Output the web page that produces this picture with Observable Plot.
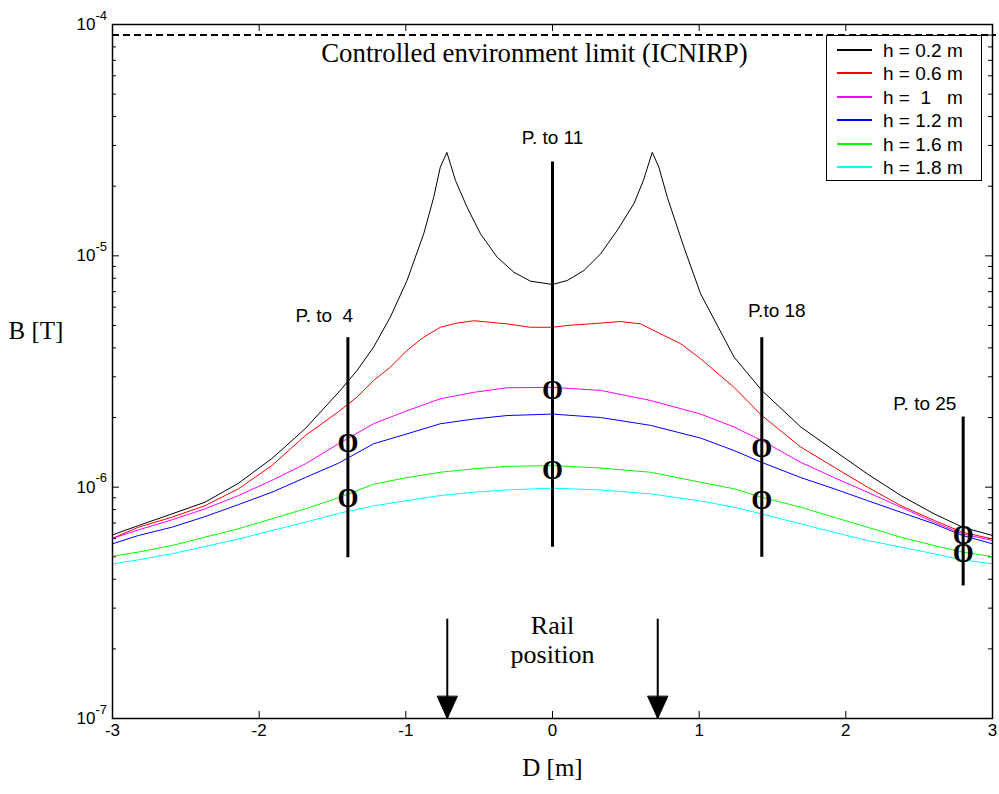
<!DOCTYPE html>
<html>
<head>
<meta charset="utf-8">
<script src="https://cdn.jsdelivr.net/npm/d3@7"></script>
<script src="https://cdn.jsdelivr.net/npm/@observablehq/plot@0.6"></script>
<style>
  body { margin: 0; background: white; }
  #wrap { position: relative; width: 999px; height: 794px; }
  svg text { white-space: pre; }
  #legend { position: absolute; left: 826px; top: 35px; width: 156px; height: 146px;
            border: 1px solid black; background: white; box-sizing: border-box; }
</style>
</head>
<body>
<div id="wrap"></div>
<script>
// ---- data ----
const seriesLabels = ["h = 0.2 m", "h = 0.6 m", "h =  1   m", "h = 1.2 m", "h = 1.6 m", "h = 1.8 m"];
const seriesColors = ["#000000", "#ff0000", "#ff00ff", "#0000ff", "#00ff00", "#00ffff"];

const xBlack = [-3, -2.824, -2.596, -2.369, -2.141, -1.913, -1.686, -1.447, -1.333, -1.22, -1.106, -0.992, -0.878, -0.81, -0.765, -0.72, -0.662, -0.582, -0.491, -0.377, -0.264, -0.15, 0, 0.1, 0.214, 0.328, 0.442, 0.555, 0.62, 0.68, 0.725, 0.783, 0.896, 1.01, 1.238, 1.427, 1.693, 1.92, 2.148, 2.375, 2.603, 2.797, 3.0];
const bH02 = [6.22e-7, 6.82e-7, 7.66e-7, 8.61e-7, 1.04e-6, 1.33e-6, 1.79e-6, 2.62e-6, 3.19e-6, 4.03e-6, 5.43e-6, 7.82e-6, 1.245e-5, 1.79e-5, 2.42e-5, 2.8e-5, 2.12e-5, 1.62e-5, 1.245e-5, 9.86e-6, 8.5e-6, 7.77e-6, 7.52e-6, 7.82e-6, 8.64e-6, 1.02e-5, 1.29e-5, 1.68e-5, 2.12e-5, 2.8e-5, 2.42e-5, 1.79e-5, 1.09e-5, 6.85e-6, 3.65e-6, 2.62e-6, 1.82e-6, 1.44e-6, 1.14e-6, 9.2e-7, 7.66e-7, 6.71e-7, 6.18e-7];

const xRed = [-3, -2.824, -2.596, -2.369, -2.141, -1.913, -1.686, -1.459, -1.333, -1.22, -1.106, -0.992, -0.878, -0.765, -0.651, -0.537, -0.423, -0.31, -0.15, 0, 0.1, 0.328, 0.464, 0.601, 0.737, 0.874, 1.01, 1.238, 1.427, 1.693, 1.92, 2.148, 2.375, 2.603, 2.797, 3.0];
const bH06 = [6.01e-7, 6.71e-7, 7.41e-7, 8.32e-7, 9.84e-7, 1.24e-6, 1.67e-6, 2.12e-6, 2.45e-6, 2.89e-6, 3.30e-6, 3.90e-6, 4.45e-6, 4.91e-6, 5.12e-6, 5.24e-6, 5.16e-6, 5.08e-6, 4.91e-6, 4.91e-6, 5.0e-6, 5.12e-6, 5.2e-6, 5.08e-6, 4.60e-6, 4.17e-6, 3.59e-6, 2.70e-6, 2.04e-6, 1.49e-6, 1.22e-6, 1.0e-6, 8.32e-7, 7.18e-7, 6.38e-7, 5.97e-7];

const xSmooth = [-3, -2.824, -2.596, -2.369, -2.141, -1.913, -1.686, -1.459, -1.22, -0.992, -0.765, -0.537, -0.31, 0, 0.328, 0.669, 1.01, 1.238, 1.427, 1.693, 1.92, 2.148, 2.375, 2.603, 2.797, 3.0];
const bH10 = [6.01e-7, 6.53e-7, 7.22e-7, 8.06e-7, 9.2e-7, 1.07e-6, 1.26e-6, 1.54e-6, 1.88e-6, 2.14e-6, 2.41e-6, 2.57e-6, 2.69e-6, 2.70e-6, 2.62e-6, 2.37e-6, 2.07e-6, 1.82e-6, 1.59e-6, 1.28e-6, 1.10e-6, 9.51e-7, 8.19e-7, 7.05e-7, 6.28e-7, 5.88e-7];
const bH12 = [5.69e-7, 6.18e-7, 6.71e-7, 7.46e-7, 8.41e-7, 9.51e-7, 1.10e-6, 1.27e-6, 1.54e-6, 1.70e-6, 1.88e-6, 1.97e-6, 2.04e-6, 2.07e-6, 2.0e-6, 1.85e-6, 1.63e-6, 1.44e-6, 1.28e-6, 1.10e-6, 9.84e-7, 8.75e-7, 7.79e-7, 6.94e-7, 6.18e-7, 5.69e-7];
const bH16 = [5.03e-7, 5.24e-7, 5.59e-7, 6.08e-7, 6.61e-7, 7.30e-7, 8.06e-7, 9.0e-7, 1.03e-6, 1.10e-6, 1.16e-6, 1.20e-6, 1.23e-6, 1.24e-6, 1.21e-6, 1.16e-6, 1.05e-6, 9.84e-7, 9.04e-7, 8.19e-7, 7.41e-7, 6.71e-7, 6.08e-7, 5.59e-7, 5.24e-7, 5.01e-7];
const bH18 = [4.66e-7, 4.85e-7, 5.15e-7, 5.54e-7, 5.97e-7, 6.49e-7, 7.05e-7, 7.7e-7, 8.3e-7, 8.75e-7, 9.2e-7, 9.51e-7, 9.73e-7, 9.9e-7, 9.73e-7, 9.35e-7, 8.72e-7, 8.19e-7, 7.66e-7, 6.94e-7, 6.38e-7, 5.88e-7, 5.51e-7, 5.15e-7, 4.85e-7, 4.66e-7];

const limitB = 9e-5;
const limitText = "Controlled environment limit (ICNIRP)";
const limitTextX = -0.123, limitTextB = 7.49e-5;

const railX = [-0.7175, 0.7175];
const railTopB = 2.7e-7, railTipB = 1e-7;
const railText = "Rail\nposition";
const railTextX = 0, railTextB = 2.2e-7;

const probeX = [-1.395, 0, 1.427, 2.8];
const probeTopB = [4.45e-6, 2.56e-5, 4.45e-6, 2.02e-6];
const probeBottomB = [4.98e-7, 5.53e-7, 5.0e-7, 3.76e-7];
const probeLabels = ["P. to  4", "P. to 11", "P.to 18", "P. to 25"];
const probeLabelX = [-1.556, 0, 1.529, 2.539];
const probeLabelB = [5.52e-6, 3.25e-5, 5.8e-6, 2.28e-6];

const markerX = [-1.395, -1.395, 0, 0, 1.427, 1.427, 2.8, 2.8];
const markerB = [1.54e-6, 8.93e-7, 2.62e-6, 1.18e-6, 1.47e-6, 8.75e-7, 6.18e-7, 5.16e-7];

const xTicks = [-3, -2, -1, 0, 1, 2, 3];
const xTickLabels = ["-3", "-2", "-1", "0", "1", "2", "3"];
const yMajor = [1e-7, 1e-6, 1e-5, 1e-4];
const yExpLabels = ["-7", "-6", "-5", "-4"];
const xTitle = "D [m]", yTitle = "B [T]";
const yTitleB = 4.75e-6, xTitleX = 0;

// ---- build ----
const seriesX = [xBlack, xRed, xSmooth, xSmooth, xSmooth, xSmooth];
const seriesB = [bH02, bH06, bH10, bH12, bH16, bH18];
const lines = seriesB.flatMap((bs, s) => bs.map((b, i) => ({x: seriesX[s][i], b, s: seriesLabels[s]})));
const yMinor = [];
for (let k = 0; k < yMajor.length - 1; k++) for (let m = 2; m <= 9; m++) yMinor.push(m * yMajor[k]);

const W = 999, H = 794, mL = 112, mR = 7, mT = 24, mB = 76;
const fw = W - mL - mR, fh = H - mT - mB;
const serif = "'Liberation Serif', 'Times New Roman', serif";
const sans = "'Liberation Sans', Arial, sans-serif";

const triangle = {draw(ctx, l, r) { ctx.moveTo(-10, -l + 22); ctx.lineTo(0, -l); ctx.lineTo(10, -l + 22); ctx.closePath(); }};

const chart = Plot.plot({
  width: W, height: H, marginLeft: mL, marginRight: mR, marginTop: mT, marginBottom: mB,
  style: {fontFamily: sans, background: "white", overflow: "visible"},
  x: {domain: [-3, 3], axis: null},
  y: {type: "log", domain: [1e-7, 1e-4], axis: null},
  color: {domain: seriesLabels, range: seriesColors},
  marks: [
    Plot.ruleX(xTicks, {x: d => d, insetTop: fh - 7, stroke: "black"}),
    Plot.ruleX(xTicks, {x: d => d, insetBottom: fh - 7, stroke: "black"}),
    Plot.ruleY(yMajor, {y: d => d, insetRight: fw - 7, stroke: "black"}),
    Plot.ruleY(yMajor, {y: d => d, insetLeft: fw - 7, stroke: "black"}),
    Plot.ruleY(yMinor, {y: d => d, insetRight: fw - 4, stroke: "black"}),
    Plot.ruleY(yMinor, {y: d => d, insetLeft: fw - 4, stroke: "black"}),
    Plot.ruleY([limitB], {y: d => d, stroke: "black", strokeWidth: 2, strokeDasharray: "7,4", insetRight: -4}),
    Plot.text([limitText], {x: [limitTextX], y: [limitTextB], text: d => d, fontFamily: serif, fontSize: 26.8, fill: "black"}),
    Plot.line(lines, {x: "x", y: "b", z: "s", stroke: "s", strokeWidth: 1, curve: "linear"}),
    Plot.link(probeX, {x1: d => d, x2: d => d, y1: (d, i) => probeBottomB[i], y2: (d, i) => probeTopB[i], stroke: "black", strokeWidth: 3}),
    Plot.text(probeLabels, {x: (d, i) => probeLabelX[i], y: (d, i) => probeLabelB[i], text: d => d, fontFamily: sans, fontSize: 19, fill: "black"}),
    Plot.text(markerX, {x: d => d, y: (d, i) => markerB[i], text: () => "O", fontFamily: serif, fontWeight: "bold", fontSize: 27, fill: "black"}),
    Plot.link(railX, {x1: d => d, x2: d => d, y1: () => railTopB, y2: () => railTipB, stroke: "black", strokeWidth: 2}),
    Plot.vector(railX, {x: d => d, y: () => railTipB, length: 22, rotate: 180, anchor: "end", shape: triangle, fill: "black", stroke: "black", strokeWidth: 1}),
    Plot.text([railText], {x: [railTextX], y: [railTextB], text: d => d, fontFamily: serif, fontSize: 26, lineHeight: 1.1, fill: "black"}),
    Plot.text(xTicks, {x: d => d, frameAnchor: "bottom", dy: 17, text: (d, i) => xTickLabels[i], fontSize: 17, fill: "black"}),
    Plot.text(yMajor, {y: d => d, frameAnchor: "left", dx: -17, textAnchor: "end", text: () => "10", fontSize: 17, fill: "black"}),
    Plot.text(yMajor, {y: d => d, frameAnchor: "left", dx: -17, dy: -9, textAnchor: "start", text: (d, i) => yExpLabels[i], fontSize: 13, fill: "black"}),
    Plot.text([xTitle], {x: [xTitleX], frameAnchor: "bottom", dy: 57, text: d => d, fontFamily: serif, fontSize: 25, fill: "black"}),
    Plot.text([yTitle], {y: [yTitleB], frameAnchor: "left", dx: -104, textAnchor: "start", text: d => d, fontFamily: serif, fontSize: 25, fill: "black"}),
    Plot.frame({stroke: "black", strokeWidth: 1.5})
  ]
});

const wrap = document.getElementById("wrap");
wrap.appendChild(chart);

// legend (HTML box with inline SVG swatches)
const legend = document.createElement("div");
legend.id = "legend";
const ns = "http://www.w3.org/2000/svg";
const ls = document.createElementNS(ns, "svg");
ls.setAttribute("width", 154); ls.setAttribute("height", 144);
ls.style.display = "block";
seriesLabels.forEach((lab, i) => {
  const cy = Math.round(14 + i * 23.4);
  const ln = document.createElementNS(ns, "rect");
  ln.setAttribute("x", 10); ln.setAttribute("width", 35);
  ln.setAttribute("y", cy - 1); ln.setAttribute("height", 2);
  ln.setAttribute("fill", seriesColors[i]);
  ls.appendChild(ln);
  const tx = document.createElementNS(ns, "text");
  tx.setAttribute("x", 56); tx.setAttribute("y", cy);
  tx.setAttribute("dy", "0.35em");
  tx.setAttribute("font-family", sans); tx.setAttribute("font-size", 19);
  tx.setAttribute("fill", "black");
  tx.style.whiteSpace = "pre";
  tx.textContent = lab;
  ls.appendChild(tx);
});
legend.appendChild(ls);
wrap.appendChild(legend);
</script>
</body>
</html>
